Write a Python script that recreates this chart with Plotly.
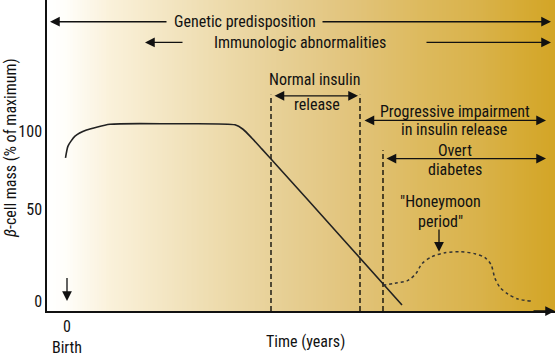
import numpy as np
import plotly.graph_objects as go

# ---------------- data (time in arbitrary units from birth, mass in % of maximum) -------------
time_mass = [-0.3, 0.2, 1.6, 3.9, 8.6, 20.6, 33.6, 35.2, 37.0, 39.0, 40.8, 55.0, 67.0]
beta_mass = [84.6, 91.6, 97.4, 101.0, 104.4, 104.7, 104.1, 101.5, 96.2, 89.8, 84.0, 37.5, -2.0]

time_honeymoon = [63.2, 65.6, 68.2, 69.8, 71.0, 73.0, 75.6, 78.6, 81.6, 83.6, 84.8, 85.6, 86.6, 88.2, 90.2, 92.8]
mass_honeymoon = [9.6, 10.8, 12.5, 16.6, 22.4, 26.5, 28.8, 29.4, 28.2, 25.9, 21.8, 13.7, 8.4, 4.4, 1.5, 0.3]

boundary_times = [40.8, 58.6, 63.2]          # normal release | impairment | overt diabetes
boundary_tops = [121.8, 121.8, 89.2]

y_tick_values = [0, 54.4, 100]
y_tick_labels = ["0", "50", "100"]
x_tick_values = [0]
x_tick_labels = ["0<br>Birth"]

X_RANGE = [-4, 97.6]
Y_RANGE = [-5.52, 177.6]

FONT = "Liberation Sans Narrow, Arial Narrow, Roboto Condensed, sans-serif"
FS = 16

fig = go.Figure()

# gradient background
grad_x = np.linspace(X_RANGE[0], X_RANGE[1], 300)
grad_z = [list((grad_x - X_RANGE[0]) / (X_RANGE[1] - X_RANGE[0]))] * 2
colorscale = [
    [0.0, "#FFFFFF"], [0.035, "#FFFEFA"], [0.124, "#FAF1DA"], [0.242, "#F3E5C1"],
    [0.360, "#ECD9A8"], [0.478, "#E6CE92"], [0.596, "#E2C47C"], [0.734, "#DDBA5E"],
    [0.852, "#D9B24A"], [0.931, "#D6AB35"], [1.0, "#D3A526"],
]
fig.add_trace(go.Heatmap(x=grad_x, y=[-100, 400], z=grad_z, colorscale=colorscale,
                         zmin=0, zmax=1, showscale=False, hoverinfo="skip"))

# dashed phase boundaries
for t, top in zip(boundary_times, boundary_tops):
    fig.add_trace(go.Scatter(x=[t, t], y=[Y_RANGE[0], top], mode="lines",
                             line=dict(color="#000", width=1.3, dash="5px,3px"),
                             hoverinfo="skip", showlegend=False))

# beta-cell mass curve
fig.add_trace(go.Scatter(x=time_mass, y=beta_mass, mode="lines",
                         line=dict(color="#222", width=1.6, shape="spline", smoothing=0.6),
                         showlegend=False, hoverinfo="skip"))
# honeymoon dotted curve
fig.add_trace(go.Scatter(x=time_honeymoon, y=mass_honeymoon, mode="lines",
                         line=dict(color="#333", width=1.5, shape="spline", smoothing=0.8, dash="dot"),
                         showlegend=False, hoverinfo="skip"))

ann = []

def txt(x, y, s, **kw):
    d = dict(x=x, y=y, xref="x", yref="y", text=s, showarrow=False,
             font=dict(family=FONT, size=FS, color="#111"), xanchor="center", yanchor="middle")
    d.update(kw)
    ann.append(d)

def arrow(x_head, y_head, x_tail, y_tail, both=False):
    ann.append(dict(x=x_head, y=y_head, ax=x_tail, ay=y_tail, xref="x", yref="y",
                    axref="x", ayref="y", text="", showarrow=True, arrowhead=2,
                    arrowsize=1.5, arrowwidth=1.3, arrowcolor="#111",
                    arrowside="end+start" if both else "end", standoff=0, startstandoff=0))

txt(35.6, 164.8, "Genetic predisposition")
arrow(-3.4, 164.8, 20.2, 164.8)
arrow(96.8, 164.8, 50.8, 164.8)

txt(46.6, 152.6, "Immunologic abnormalities")
arrow(15.6, 152.6, 23.4, 152.6)
arrow(96.8, 152.6, 71.6, 152.6)

txt(49.4, 130.5, "Normal insulin")
txt(50.0, 116.0, "release")
arrow(58.2, 121.2, 41.2, 121.2, both=True)

txt(77.6, 111.9, "Progressive impairment")
txt(77.4, 101.5, "in insulin release")
arrow(95.8, 106.7, 59.2, 106.7, both=True)

txt(77.6, 88.7, "Overt")
txt(77.6, 77.6, "diabetes")
arrow(95.8, 84.2, 63.6, 84.2, both=True)

txt(74.6, 59.0, "\"Honeymoon")
txt(74.6, 47.4, "period\"")
arrow(74.4, 29.4, 74.4, 43.3)

arrow(0, 0.3, 0, 14.8)          # birth arrow
arrow(97.6, Y_RANGE[0], 93.0, Y_RANGE[0])   # x-axis arrow

ann.append(dict(x=(305 - 47) / 508, y=-(346 - 315) / 315, xref="paper", yref="paper",
                text="Time (years)", showarrow=False, xanchor="center", yanchor="middle",
                font=dict(family=FONT, size=FS, color="#111")))
ann.append(dict(x=-(47 - 10) / 508, y=(315 - 150) / 315, xref="paper", yref="paper",
                text="<i>β</i>-cell mass (% of maximum)", textangle=-90, showarrow=False,
                xanchor="center", yanchor="middle",
                font=dict(family=FONT, size=FS, color="#111")))

fig.update_layout(
    width=558, height=357, margin=dict(l=47, r=3, t=0, b=42),
    paper_bgcolor="white", plot_bgcolor="white", annotations=ann, showlegend=False,
    font=dict(family=FONT, size=FS, color="#111"),
    xaxis=dict(range=X_RANGE, showgrid=False, zeroline=False, showline=True, linecolor="#111",
               linewidth=1.5, tickvals=x_tick_values, ticktext=x_tick_labels, ticks="",
               tickfont=dict(family=FONT, size=FS, color="#111"), fixedrange=True),
    yaxis=dict(range=Y_RANGE, showgrid=False, zeroline=False, showline=True, linecolor="#111",
               linewidth=1.5, tickvals=y_tick_values, ticktext=y_tick_labels, ticks="",
               tickfont=dict(family=FONT, size=FS, color="#111"), fixedrange=True),
)

fig.write_html("out.html", config={"displayModeBar": False},
               post_script="document.body.style.margin='0';document.body.style.padding='0';")
